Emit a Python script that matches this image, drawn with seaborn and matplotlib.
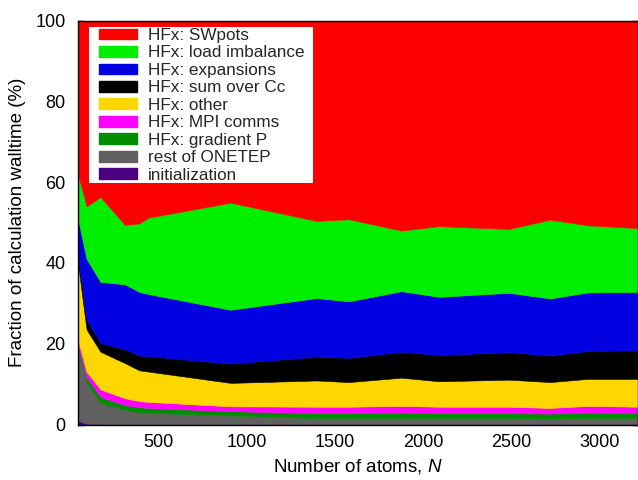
import numpy as np
import pandas as pd
import matplotlib
matplotlib.use("Agg")
import matplotlib.pyplot as plt
import seaborn as sns
from matplotlib.patches import Patch, Rectangle

# ---- data ----
atoms = [41, 90, 169, 308, 390, 441, 907, 1395, 1579, 1877, 2090, 2487, 2720, 2935, 3224]

initialization = [1.0, 0.2, 0.1, 0.1, 0.1, 0.1, 0.1, 0.1, 0.1, 0.1, 0.1, 0.1, 0.1, 0.1, 0.1]
rest_onetep    = [17.5, 10.3, 5.2, 3.6, 2.9, 2.8, 2.1, 1.5, 1.5, 1.5, 1.5, 1.5, 1.4, 1.5, 1.5]
gradient_p     = [1.2, 1.1, 1.5, 1.1, 1.3, 1.2, 1.1, 1.2, 1.2, 1.3, 1.2, 1.2, 1.2, 1.3, 1.2]
mpi_comms      = [1.2, 1.4, 1.9, 1.7, 1.5, 1.5, 1.2, 1.6, 1.6, 1.7, 1.6, 1.6, 1.4, 1.7, 1.6]
other          = [19.1, 10.5, 9.3, 8.7, 7.6, 7.5, 5.8, 6.5, 6.1, 7.0, 6.3, 6.7, 6.4, 6.7, 6.9]
sum_over_cc    = [2.0, 2.5, 2.2, 3.4, 3.7, 3.8, 4.8, 5.9, 6.0, 6.4, 6.5, 6.8, 6.6, 6.9, 7.1]
expansions     = [9.0, 15.0, 15.1, 16.1, 15.7, 15.4, 13.3, 14.5, 14.0, 15.0, 14.4, 14.7, 14.1, 14.5, 14.4]
load_imbalance = [11.0, 13.0, 21.0, 14.7, 17.0, 18.9, 26.5, 19.1, 20.3, 15.0, 17.5, 15.8, 19.5, 16.6, 15.8]
swpots         = [38.0, 46.0, 43.7, 50.6, 50.2, 48.8, 45.1, 49.6, 49.2, 52.0, 50.9, 51.6, 49.3, 50.7, 51.4]

labels = ["initialization", "rest of ONETEP", "HFx: gradient P", "HFx: MPI comms",
          "HFx: other", "HFx: sum over Cc", "HFx: expansions",
          "HFx: load imbalance", "HFx: SWpots"]
colors = ["#4b0082", "#606060", "#008c00", "#ff00ff", "#ffd700",
          "#000000", "#0000e0", "#00ee00", "#ff0000"]

df = pd.DataFrame({
    "atoms": atoms,
    labels[0]: initialization, labels[1]: rest_onetep, labels[2]: gradient_p,
    labels[3]: mpi_comms, labels[4]: other, labels[5]: sum_over_cc,
    labels[6]: expansions, labels[7]: load_imbalance, labels[8]: swpots,
})

sns.set_theme(style="ticks")
plt.rcParams["font.family"] = ["Liberation Sans", "DejaVu Sans"]
plt.rcParams["mathtext.fontset"] = "custom"
plt.rcParams["mathtext.rm"] = "Liberation Sans"
plt.rcParams["mathtext.it"] = "Liberation Sans:italic"

fig = plt.figure(figsize=(6.38, 4.8), dpi=100)
AX_L, AX_B, AX_T = 78, 424.5, 20.5
AX_W, AX_H = 638 - AX_L, AX_B - AX_T
ax = fig.add_axes([AX_L / 638, 1 - AX_B / 480, AX_W / 638, AX_H / 480])

polys = ax.stackplot(df["atoms"], [df[l] for l in labels], colors=colors,
                     linewidth=0.4, zorder=1)
for p, c in zip(polys, colors):
    p.set_edgecolor(c)

ax.set_xlim(41.4, 3219)
ax.set_ylim(0, 100)
ax.set_xticks([500, 1000, 1500, 2000, 2500, 3000])
ax.set_yticks([0, 20, 40, 60, 80, 100])

for s in ax.spines.values():
    s.set_color("black")
    s.set_linewidth(1.0)
    s.set_zorder(5)

ax.tick_params(direction="in", top=True, right=True, length=4.5, width=1.0,
               colors="black", labelsize=13)
ax.tick_params(axis="y", pad=9)
ax.tick_params(axis="x", pad=7)

ax.set_xlabel("Number of atoms, $N$", fontsize=13.5, labelpad=4, color="black")
ax.set_ylabel("Fraction of calculation walltime (%)", fontsize=13.5, labelpad=6.5, color="black")

# white legend box
ax.add_patch(Rectangle(((89 - AX_L) / AX_W, (AX_B - 183) / AX_H),
                       (313 - 89) / AX_W, (183 - 27) / AX_H,
                       transform=ax.transAxes, facecolor="white", edgecolor="none",
                       zorder=4))

handles = [Patch(facecolor=c, edgecolor=c) for c in colors][::-1]
leg = ax.legend(handles, labels[::-1], loc="upper left",
                bbox_to_anchor=((99 - AX_L) / AX_W, (AX_B - 28.0) / AX_H), borderaxespad=0,
                frameon=False, fontsize=12.3, handlelength=2.25, handleheight=0.6,
                handletextpad=0.62, labelspacing=0.145, borderpad=0.0)
leg.set_zorder(6)

fig.savefig("out.png", dpi=100)
